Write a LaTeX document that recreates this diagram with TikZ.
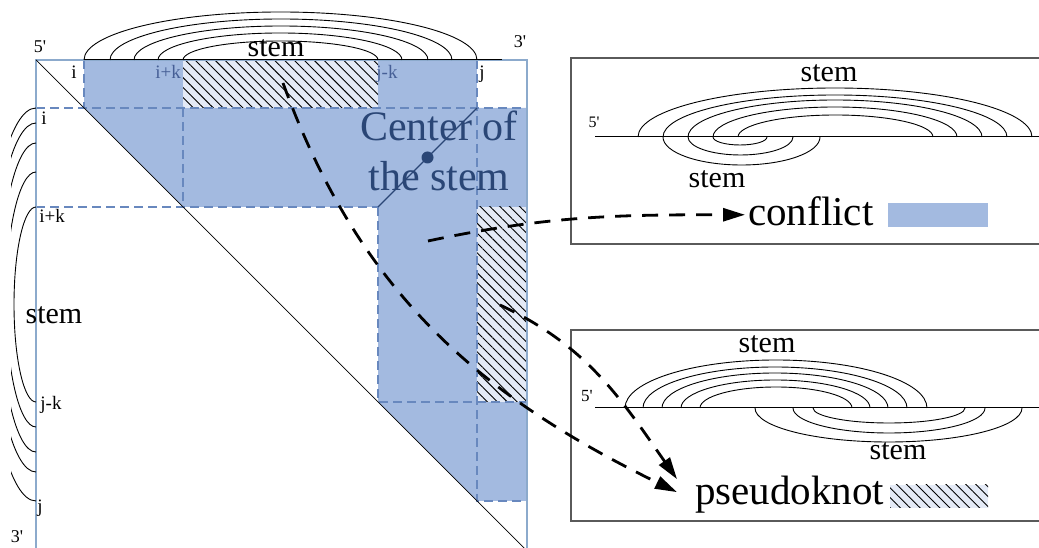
\documentclass[tikz,border=0pt]{standalone}
\usepackage{fontspec}
\setmainfont{Liberation Serif}
\usepackage{tikz}
\usetikzlibrary{arrows.meta,patterns.meta,calc}

\definecolor{cellblue}{RGB}{163,186,224}
\definecolor{stemnavy}{RGB}{42,70,118}
\definecolor{idxnavy}{RGB}{70,95,150}
\definecolor{gridblue}{RGB}{104,136,190}
\definecolor{frameblue}{RGB}{140,170,204}
\definecolor{hatchbg}{RGB}{228,234,246}
\definecolor{boxgray}{RGB}{90,90,90}

\begin{document}
\begin{tikzpicture}[x=1pt,y=1pt,
  arcline/.style={line width=0.9pt},
  gridline/.style={draw=gridblue,line width=1.4pt,dash pattern=on 9pt off 5pt},
  hatched/.style={fill=hatchbg,postaction={pattern={Lines[angle=-45,distance=7pt,line width=0.9pt]},pattern color=black}},
  idx/.style={font=\fontsize{19}{22}\selectfont,anchor=base,inner sep=0pt},
  prime/.style={font=\fontsize{18}{20}\selectfont,anchor=base,inner sep=0pt},
  stemlbl/.style={font=\fontsize{30}{34}\selectfont,anchor=base,inner sep=0pt},
  biglbl/.style={font=\fontsize{41}{48}\selectfont,anchor=base west,inner sep=0pt},
  flow/.style={-{Triangle[length=22pt,width=13pt]},line width=2.8pt,dash pattern=on 16pt off 11pt}]
  \useasboundingbox (0,0) rectangle (1039,548);

  % dot-plot matrix: shaded cells
  \fill[cellblue] (84,488) rectangle (183,440);
  \fill[cellblue] (378,488) rectangle (477,440);
  \fill[cellblue] (84,440) -- (527,440) -- (527,341) -- (183,341) -- cycle;
  \fill[cellblue] (378,341) rectangle (477,146);
  \fill[cellblue] (378,146) -- (527,146) -- (527,47) -- (477,47) -- cycle;
  \path[hatched] (183,488) rectangle (378,440);
  \path[hatched] (477,341) rectangle (527,146);
  % dashed index lines
  \draw[gridline] (84,488) -- (84,440);
  \draw[gridline] (36,440) -- (527,440);
  \draw[gridline] (183,440) -- (183,341);
  \draw[gridline] (36,341) -- (378,341);
  \draw[gridline] (378,341) -- (378,146) -- (527,146);
  \draw[gridline] (477,488) -- (477,47) -- (527,47);
  % frame, diagonal, sequence line
  \draw[frameblue,line width=1.2pt] (36,-3) rectangle (527,488);
  \draw[line width=0.7pt] (36,488) -- (527,-3);
  \draw[line width=1pt] (84,488) -- (502,488);

  % stem arcs on top
  \foreach \xa/\xb/\hh in {84/477/48,110/452/41,134/428/34,158/402/27,183/378/19}
    \draw[arcline] (\xa,488) arc[start angle=180,end angle=0,x radius={(\xb-\xa)/2},y radius=\hh];
  % stem arcs on the left
  \begin{scope}
    \clip (11,0) rectangle (37,548);
    \foreach \ya/\yb/\ww in {440/47/48,425/76/42,405/96/36,376/121/30,341/146/22}
      \draw[arcline] (36,\ya) arc[start angle=90,end angle=270,x radius=\ww,y radius={(\ya-\yb)/2}];
  \end{scope}

  % index labels
  \node[prime] (fiveM) at (40,495) {5\textquotesingle};
  \node[prime] (threeM) at (520,500) {3\textquotesingle};
  \node[prime] (threeL) at (17,5) {3\textquotesingle};
  \node[stemlbl] (stemT) at (276,491) {stem};
  \node[stemlbl] (stemL) at (54,224) {stem};
  \node[idx] (ti) at (74,469) {i};
  \node[idx,text=idxnavy] (tik) at (168,469) {i+k};
  \node[idx,text=idxnavy] (tjk) at (387,469) {j-k};
  \node[idx] (tj) at (482,469) {j};
  \node[idx] (li) at (44,423) {i};
  \node[idx] (lik) at (52,325) {i+k};
  \node[idx] (ljk) at (51,138) {j-k};
  \node[idx] (lj) at (40,35) {j};

  % center of the stem
  \draw[stemnavy,line width=1.1pt] (477,440) -- (378,341);
  \fill[stemnavy] (427.5,390.5) circle (6);
  \node[font=\fontsize{42}{50}\selectfont,text=stemnavy,align=center,inner sep=0pt] (stemctr) at (439,397) {Center of\\the stem};

  % conflict box
  \draw[boxgray,line width=1.2pt] (1039,490) -- (571,490) -- (571,304) -- (1039,304);
  \draw[line width=1pt] (595,411) -- (1039,411);
  \node[prime,font=\fontsize{16}{18}\selectfont] (fiveA) at (594,420) {5\textquotesingle};
  \foreach \xa/\xb/\hh in {638/1032/49,663/1007/42,688/982/37,713/957/30,738/933/22}
    \draw[arcline] (\xa,411) arc[start angle=180,end angle=0,x radius={(\xb-\xa)/2},y radius=\hh];
  \foreach \xa/\xb/\hh in {663/820/28,688/793/18,713/767/8}
    \draw[arcline] (\xa,411) arc[start angle=180,end angle=360,x radius={(\xb-\xa)/2},y radius=\hh];
  \node[stemlbl] (stemA) at (829,466) {stem};
  \node[stemlbl] (stemB) at (717,360) {stem};
  \node[biglbl] (conflict) at (748,322) {conflict};
  \fill[cellblue] (888,345) rectangle (988,321);

  % pseudoknot box
  \draw[boxgray,line width=1.2pt] (1039,218) -- (571,218) -- (571,27) -- (1039,27);
  \draw[line width=1pt] (595,140) -- (1039,140);
  \node[prime,font=\fontsize{17}{19}\selectfont] (fiveB) at (587,146) {5\textquotesingle};
  \foreach \xa/\xb/\hh in {625/927/48,643/907/41,662/888/35,681/870/28,700/852/21}
    \draw[arcline] (\xa,140) arc[start angle=180,end angle=0,x radius={(\xb-\xa)/2},y radius=\hh];
  \foreach \xa/\xb/\hh in {755/1022/34,793/985/25,813/965/15}
    \draw[arcline] (\xa,140) arc[start angle=180,end angle=360,x radius={(\xb-\xa)/2},y radius=\hh];
  \node[stemlbl] (stemC) at (767,195) {stem};
  \node[stemlbl] (stemD) at (898,88) {stem};
  \node[biglbl] (pk) at (695,43) {pseudoknot};
  \path[hatched] (890,63) rectangle (988,40);

  % dashed arrows
  \coordinate (cfStart) at (428,307);
  \coordinate (cfEnd) at ($(conflict.west)+(-3,-3)$);
  \coordinate (pkStartA) at (283,465);
  \coordinate (pkStartB) at (500,243);
  \coordinate (pkEndA) at ($(pk.west)+(-18,3)$);
  \coordinate (pkEndB) at ($(pk.west)+(-18,16)$);
  \draw[flow] (cfStart) to[out=12,in=180] (cfEnd);
  \draw[flow] (pkStartA) to[out=-70,in=154] (pkEndA);
  \draw[flow] (pkStartB) to[out=-25,in=125] (pkEndB);
\end{tikzpicture}
\end{document}
